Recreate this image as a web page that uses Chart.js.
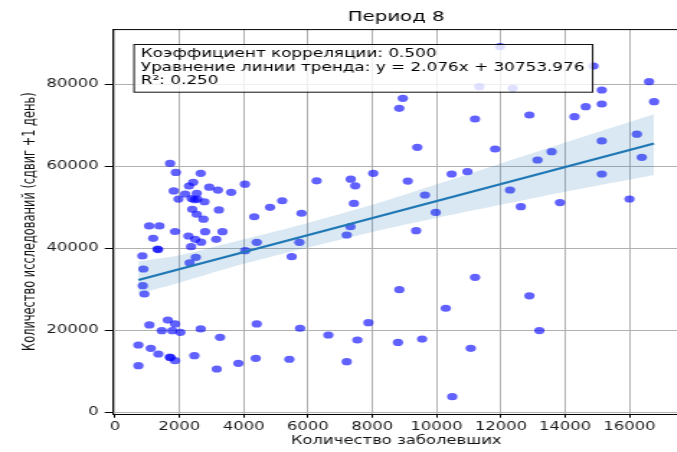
<!DOCTYPE html>
<html>
<head>
<meta charset="utf-8">
<script src="https://cdn.jsdelivr.net/npm/chart.js@4.4.1/dist/chart.umd.min.js"></script>
<style>
html,body{margin:0;padding:0;background:#fff;width:677px;height:452px;overflow:hidden}
#wrap{position:absolute;left:0;top:0;width:480px;height:452px;transform:scaleX(1.44);transform-origin:0 0}
canvas{display:block}
</style>
</head>
<body>
<div id="wrap"><canvas id="c" width="480" height="452" style="width:480px;height:452px"></canvas></div>
<script>
// ---- data ----
const chartTitle = "Период 8";
const xLabel = "Количество заболевших";
const yLabel = "Количество исследований (сдвиг +1 день)";
const noteLines = [
  "Коэффициент корреляции: 0.500",
  "Уравнение линии тренда: y = 2.076x + 30753.976",
  "R²: 0.250"
];
const xTicks = [0, 2000, 4000, 6000, 8000, 10000, 12000, 14000, 16000];
const yTicks = [0, 20000, 40000, 60000, 80000];

const casesX = [
  1710,1890,2665,2430,2300,2930,3200,3610,4040,1825,2180,2540,1970,2380,2470,2560,2780,2400,3230,2540,2750,
  4330,4820,5200,5800,6270,7330,7470,7430,8030,8840,8950,9400,9105,9640,9975,10470,10960,11195,11820,12285,
  12620,12887,13140,13580,13840,14290,14640,15138,15138,15138,15138,16000,16230,16385,16610,16765,14880,
  11330,11975,12370,
  1060,1380,1866,1185,2280,2800,3340,2490,2675,3145,2365,1320,1340,850,2510,2320,880,862,912,4050,4407,
  5495,5735,7206,7320,9365,11197,8843,12887,10286,
  1068,1640,1866,1452,1783,2032,2665,3266,4407,5755,6635,7537,7879,8800,9550,11064,13197,726,1111,1347,
  1700,1725,1866,2467,726,3163,3835,4376,5422,7206,10489
];
const testsY = [
  60700,58500,58300,56100,55200,54900,54200,53650,55650,54000,53250,53400,52000,52150,51850,52000,51350,49500,49350,48300,47100,
  47700,50000,51600,48550,56450,56850,55250,50950,58300,74150,76580,64630,56400,53000,48750,58120,58700,71540,64220,54220,
  50150,72510,61540,63560,51150,72100,74540,78610,75200,66200,58120,52020,67850,62200,80640,75760,84460,
  79420,89200,79020,
  45450,45450,44100,42440,43000,44050,44050,42200,41500,42200,40400,39800,39700,38150,37800,36450,34950,30880,28850,39420,41460,
  37950,41460,43240,45270,44290,32930,29900,28400,25370,
  21300,22500,21540,19900,19900,19500,20320,18290,21540,20500,18850,17630,21850,17050,17850,15610,19920,16410,15600,14220,
  13450,13350,12590,13800,11370,10560,11950,13170,12930,12340,3800
];

const trendSlope = 2.076;
const trendIntercept = 30753.976;
const trendXRange = [726, 16765];

const bandX     = [726,   2000,  4000,  6000,  8000,  10000, 12000, 14000, 16765];
const bandUpper = [36800, 38300, 42200, 46200, 50600, 55600, 60700, 65800, 72700];
const bandLower = [28900, 31600, 36200, 40200, 44000, 47400, 50600, 53800, 57900];

const axisMin = { x: -76, y: -470 };
const axisMax = { x: 17567, y: 93470 };

// ---- build ----
const FONT = '"DejaVu Sans"';
const scatterData = casesX.map((x, i) => ({ x: x, y: testsY[i] }));
const trendData = trendXRange.map(x => ({ x: x, y: trendSlope * x + trendIntercept }));
const upperData = bandX.map((x, i) => ({ x: x, y: bandUpper[i] }));
const lowerData = bandX.map((x, i) => ({ x: x, y: bandLower[i] }));

const overlay = {
  id: 'overlay',
  afterDatasetsDraw(chart) {
    const ctx = chart.ctx, a = chart.chartArea;
    ctx.save();
    // top spine
    ctx.strokeStyle = '#000';
    ctx.lineWidth = 1;
    ctx.beginPath();
    ctx.moveTo(a.left, a.top + 0.5);
    ctx.lineTo(a.right, a.top + 0.5);
    ctx.stroke();
    // annotation box
    ctx.font = '11.7px ' + FONT;
    const pad = 5.2, lh = 13.3;
    const w = Math.max.apply(null, noteLines.map(t => ctx.measureText(t).width));
    const bx = a.left + 14.4, by = a.top + 14.9;
    const bw = w + 2 * pad, bh = 47.7;
    ctx.fillStyle = 'rgba(255,255,255,0.8)';
    ctx.fillRect(bx, by, bw, bh);
    ctx.strokeStyle = '#111';
    ctx.lineWidth = 1;
    ctx.strokeRect(bx + 0.5, by + 0.5, bw, bh);
    ctx.fillStyle = '#000';
    ctx.textBaseline = 'middle';
    ctx.textAlign = 'left';
    noteLines.forEach((t, i) => ctx.fillText(t, bx + pad, by + 10.2 + i * lh));
    // title
    ctx.font = '13.7px ' + FONT;
    ctx.textAlign = 'center';
    ctx.fillText(chartTitle, (a.left + a.right) / 2, 17);
    ctx.restore();
  }
};

new Chart(document.getElementById('c'), {
  type: 'scatter',
  data: {
    datasets: [
      {
        type: 'scatter',
        data: scatterData,
        backgroundColor: 'rgba(0,0,255,0.62)',
        borderWidth: 0,
        pointRadius: 3.6,
        order: 4
      },
      {
        type: 'line',
        data: upperData,
        borderWidth: 0,
        pointRadius: 0,
        tension: 0.3,
        fill: '+1',
        backgroundColor: 'rgba(31,119,180,0.17)',
        order: 3
      },
      {
        type: 'line',
        data: lowerData,
        borderWidth: 0,
        pointRadius: 0,
        tension: 0.3,
        fill: false,
        order: 2
      },
      {
        type: 'line',
        data: trendData,
        borderColor: '#1f77b4',
        borderWidth: 2.2,
        pointRadius: 0,
        fill: false,
        order: 1
      }
    ]
  },
  options: {
    responsive: false,
    devicePixelRatio: 1,
    animation: false,
    layout: { padding: { top: 29.1, right: 7.9, bottom: 0, left: 0 } },
    plugins: {
      legend: { display: false },
      tooltip: { enabled: false },
      title: { display: false }
    },
    scales: {
      x: {
        type: 'linear',
        min: axisMin.x,
        max: axisMax.x,
        afterBuildTicks: s => { s.ticks = xTicks.map(v => ({ value: v })); },
        afterFit: s => { s.height = 37.8; },
        grid: { color: '#b0b0b0', lineWidth: 1, tickLength: 3.5, tickColor: '#000', drawTicks: true },
        border: { display: true, color: '#000', width: 1 },
        ticks: {
          autoSkip: false, maxRotation: 0, padding: 3,
          color: '#1a1a1a', font: { family: 'DejaVu Sans', size: 11.4 },
          callback: v => String(v)
        },
        title: {
          display: true, text: xLabel, color: '#111',
          font: { family: 'DejaVu Sans', size: 11.4 },
          padding: { top: 0, bottom: 3.7 }
        }
      },
      y: {
        type: 'linear',
        min: axisMin.y,
        max: axisMax.y,
        afterBuildTicks: s => { s.ticks = yTicks.map(v => ({ value: v })); },
        afterFit: s => { s.width = 78.2; },
        grid: { color: '#b0b0b0', lineWidth: 1, tickLength: 5.5, tickColor: '#000', drawTicks: true },
        border: { display: true, color: '#000', width: 1 },
        ticks: {
          autoSkip: false, padding: 4.2,
          color: '#1a1a1a', font: { family: 'DejaVu Sans', size: 11.4 },
          callback: v => String(v)
        },
        title: {
          display: true, text: yLabel, color: '#111',
          font: { family: 'DejaVu Sans', size: 11.4 },
          padding: { top: 14, bottom: 0 }
        }
      }
    }
  },
  plugins: [overlay]
});
</script>
</body>
</html>
